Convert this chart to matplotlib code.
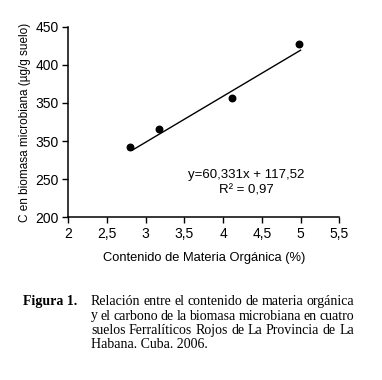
import matplotlib.pyplot as plt
import numpy as np

# data
mo = [2.8, 3.17, 4.12, 4.98]
cbm = [292, 316, 356, 427]
slope, intercept = 60.331, 117.52
fit_x = [2.83, 5.0]

x_ticks = [2, 2.5, 3, 3.5, 4, 4.5, 5, 5.5]
x_labels = ["2", "2,5", "3", "3,5", "4", "4,5", "5", "5,5"]
y_ticks = [200, 250, 300, 350, 400, 450]
y_labels = ["200", "250", "350", "350", "400", "450"]

caption_lines = [
    "Relación entre el contenido de materia orgánica",
    "y el carbono de la biomasa microbiana en cuatro",
    "suelos Ferralíticos Rojos de La Provincia de La",
    "Habana. Cuba. 2006.",
]

W, H = 382, 380
fig = plt.figure(figsize=(W / 100, H / 100), dpi=100)
ax = fig.add_axes([68.3 / W, 1 - 217.3 / H, 271 / W, 190.6 / H])

sans = "Liberation Sans"
ax.scatter(mo, cbm, s=22, color="black", zorder=3)
fx = np.array(fit_x)
ax.plot(fx, slope * fx + intercept, color="black", linewidth=1.0)

ax.set_xlim(2, 5.5)
ax.set_ylim(200, 450)
ax.set_xticks(x_ticks)
ax.set_xticklabels(x_labels, fontfamily=sans, fontsize=10)
ax.set_yticks(y_ticks)
ax.set_yticklabels(y_labels, fontfamily=sans, fontsize=10)
ax.tick_params(length=4, width=1, color="black", pad=3)
for s in ["top", "right"]:
    ax.spines[s].set_visible(False)
for s in ["left", "bottom"]:
    ax.spines[s].set_linewidth(1.1)

ax.set_xlabel("Contenido de Materia Orgánica (%)", fontfamily=sans, fontsize=9.3, labelpad=8)
ax.set_ylabel("C en biomasa microbiana (µg/g suelo)", fontfamily=sans, fontsize=8.5, labelpad=3)

ax.text(4.30, 255.5, "y=60,331x + 117,52", ha="center", va="center", fontfamily=sans, fontsize=9.5)
ax.text(4.30, 234.5, "R² = 0,97", ha="center", va="center", fontfamily=sans, fontsize=9.5)

# caption (justified manually)
serif = "Liberation Serif"
cap_fs = 10
fig.text(22.7 / W, 1 - 301.7 / H, "Figura 1.", fontfamily=serif, fontsize=cap_fs,
         fontweight="bold", va="center", ha="left")
renderer = fig.canvas.get_renderer()
left_px, right_px = 91, 354
line_y = [301.7, 316, 330.3, 344.3]
for i, line in enumerate(caption_lines):
    yy = 1 - line_y[i] / H
    if i == len(caption_lines) - 1:
        fig.text(left_px / W, yy, line, fontfamily=serif, fontsize=cap_fs, va="center", ha="left")
        continue
    words = line.split(" ")
    texts = [fig.text(0, yy, w, fontfamily=serif, fontsize=cap_fs, va="center", ha="left") for w in words]
    widths = [t.get_window_extent(renderer).width for t in texts]
    gap = (right_px - left_px - sum(widths)) / (len(words) - 1)
    xpos = left_px
    for t, w in zip(texts, widths):
        t.set_x(xpos / W)
        xpos += w + gap

fig.savefig("out.png", dpi=100)
